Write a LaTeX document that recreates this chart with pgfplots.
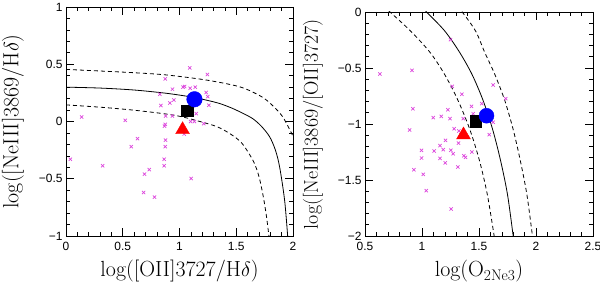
\documentclass[border=0pt]{standalone}
\usepackage{fontspec}
\setsansfont{Liberation Sans}
\usepackage{pgfplots}
\pgfplotsset{compat=1.18}
\definecolor{mag}{RGB}{220,70,220}
\pgfplotsset{
  panel/.style={
    scale only axis,
    axis line style={line width=0.9bp},
    tick align=inside,
    major tick length=8bp,
    minor tick length=4bp,
    minor tick num=4,
    every tick/.style={black, line width=0.6bp},
    tick label style={font=\sffamily\fontsize{12}{12}\selectfont},
    xticklabel style={yshift=-2.5bp},
    /pgf/number format/assume math mode=true,
    label style={font=\fontsize{22}{24}\selectfont},
    xlabel style={at={(axis description cs:0.5,-0.179)}, anchor=base},
    clip=true,
  },
  crosses/.style={only marks, mark=x, mark size=2.3bp, mag, mark options={line width=0.7bp}},
  solidc/.style={black, line width=0.8bp, smooth},
  dashc/.style={black, line width=0.8bp, smooth, dash pattern=on 4bp off 3bp},
}
\begin{document}
\begin{tikzpicture}
\useasboundingbox (0,0) rectangle (600bp,282bp);
% ---------------- left panel ----------------
\begin{axis}[panel,
  at={(66bp,46bp)}, anchor=south west,
  width=227bp, height=229bp,
  xmin=0, xmax=2, ymin=-1, ymax=1,
  xtick={0,0.5,1,1.5,2}, xticklabels={0,0.5,1,1.5,2},
  ytick={-1,-0.5,0,0.5,1}, yticklabels={−1,−0.5,0,0.5,1},
  xlabel={log([OII]3727/H$\delta$)},
  ylabel={log([NeIII]3869/H$\delta$)},
  ylabel style={at={(axis description cs:-0.2335,0.5)}, anchor=center},
]
\addplot[crosses] coordinates {
(1.091,0.468) (0.874,0.372) (1.246,0.410) (0.938,0.282) (1.030,0.300)
(1.045,0.305) (1.094,0.290) (1.138,0.300) (0.827,0.238) (1.235,0.253)
(1.249,0.218) (1.258,0.142) (0.836,0.139) (0.915,0.162) (0.950,0.188)
(0.877,0.048) (0.938,0.048) (1.147,0.069) (1.097,0.000) (1.132,0.000)
(1.214,-0.019) (0.874,-0.025) (0.868,-0.040) (1.041,-0.110) (0.138,0.039)
(0.522,0.010) (0.630,-0.150) (0.575,-0.220) (0.877,-0.162) (0.874,-0.220)
(0.865,-0.330) (0.865,-0.387) (0.038,-0.330) (0.323,-0.387) (0.733,-0.420)
(0.692,-0.460) (1.103,-0.498) (0.683,-0.620) (0.780,-0.660)
};
\addplot[solidc] coordinates {
(0,0.300) (0.3,0.292) (0.6,0.275) (0.88,0.247) (1.1,0.215) (1.231,0.188)
(1.354,0.157) (1.466,0.115) (1.565,0.068) (1.645,0.025) (1.72,-0.04)
(1.794,-0.133) (1.845,-0.25) (1.882,-0.396) (1.926,-0.687) (1.953,-1.0) (1.956,-1.05)
};
\addplot[dashc] coordinates {
(0,0.455) (0.3,0.441) (0.6,0.426) (0.88,0.407) (1.231,0.363) (1.524,0.305)
(1.68,0.24) (1.765,0.188) (1.85,0.11) (1.91,0.04) (1.96,-0.05) (2.0,-0.13) (2.02,-0.2)
};
\addplot[dashc] coordinates {
(0,0.145) (0.3,0.125) (0.587,0.100) (0.886,0.065) (1.026,0.040) (1.18,0.0)
(1.33,-0.045) (1.45,-0.11) (1.55,-0.19) (1.65,-0.345) (1.70,-0.48) (1.737,-0.65)
(1.765,-0.82) (1.788,-1.0) (1.792,-1.05)
};
\addplot[only marks, mark=triangle*, mark size=8bp, red] coordinates {(1.027,-0.072)};
\addplot[only marks, mark=square*, mark size=5.7bp, black] coordinates {(1.067,0.095)};
\addplot[only marks, mark=*, mark size=7.8bp, blue] coordinates {(1.132,0.194)};
\end{axis}
% ---------------- right panel ----------------
\begin{axis}[panel,
  at={(365bp,46bp)}, anchor=south west,
  width=228bp, height=224bp,
  xmin=0.5, xmax=2.5, ymin=-2, ymax=0,
  xtick={0.5,1,1.5,2,2.5}, xticklabels={0.5,1,1.5,2,2.5},
  ytick={-2,-1.5,-1,-0.5,0}, yticklabels={−2,−1.5,−1,−0.5,0},
  xlabel={log(O$_{\mathrm{2Ne3}}$)},
  ylabel={log([NeIII]3869/[OII]3727)},
  xlabel style={at={(axis description cs:0.5,-0.183)}, anchor=base},
  ylabel style={at={(axis description cs:-0.228,0.5)}, anchor=center, font=\fontsize{20}{22}\selectfont},
]
\addplot[crosses] coordinates {
(0.631,-0.554) (0.912,-0.521) (0.920,-0.863) (0.891,-1.054) (1.250,-0.247)
(1.265,-0.664) (1.350,-0.735) (1.624,-0.652) (1.735,-0.774) (1.434,-0.842)
(1.227,-0.872) (1.169,-0.932) (1.099,-0.943) (1.245,-0.952) (1.361,-0.952)
(1.449,-0.908) (1.525,-0.818) (1.516,-0.943) (1.624,-0.985) (1.589,-1.095)
(1.282,-1.042) (1.323,-1.062) (1.343,-1.101) (0.996,-1.235) (0.996,-1.304)
(0.929,-1.408) (1.011,-1.449) (1.037,-1.595) (1.107,-1.241) (1.157,-1.193)
(1.186,-1.229) (1.206,-1.146) (1.157,-1.307) (1.204,-1.348) (1.253,-1.235)
(1.273,-1.265) (1.320,-1.170) (1.314,-1.384) (1.367,-1.283) (1.382,-1.298)
(1.437,-1.250) (1.256,-1.759)
};
\addplot[solidc] coordinates {
(0.99,0.05) (1.04,0) (1.2,-0.17) (1.33,-0.36) (1.44,-0.56) (1.536,-0.79)
(1.62,-1.05) (1.69,-1.33) (1.75,-1.63) (1.80,-2.0) (1.81,-2.07)
};
\addplot[dashc] coordinates {
(0.66,0.05) (0.719,0) (0.90,-0.17) (1.07,-0.36) (1.20,-0.56) (1.316,-0.79)
(1.42,-1.05) (1.505,-1.33) (1.573,-1.63) (1.633,-2.0) (1.642,-2.07)
};
\addplot[dashc] coordinates {
(1.31,0.05) (1.353,0) (1.47,-0.17) (1.55,-0.36) (1.64,-0.56) (1.726,-0.79)
(1.80,-1.05) (1.863,-1.33) (1.92,-1.63) (1.969,-2.0) (1.978,-2.07)
};
\addplot[only marks, mark=triangle*, mark size=8bp, red] coordinates {(1.364,-1.098)};
\addplot[only marks, mark=square*, mark size=5.7bp, black] coordinates {(1.469,-0.976)};
\addplot[only marks, mark=*, mark size=7.5bp, blue] coordinates {(1.566,-0.926)};
\end{axis}
\end{tikzpicture}
\end{document}
